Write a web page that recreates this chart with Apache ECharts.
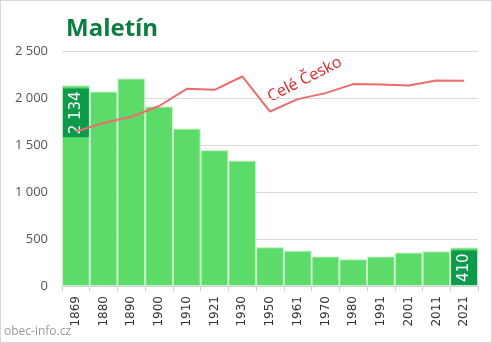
<!DOCTYPE html>
<html>
<head>
<meta charset="utf-8">
<script src="https://cdn.jsdelivr.net/npm/echarts@6/dist/echarts.min.js"></script>
<style>
html,body{margin:0;padding:0;background:#fff;}
#c{width:490px;height:341px;border:1px solid #d8d8d8;}
</style>
</head>
<body>
<div id="c"></div>
<script>
const years = ['1869','1880','1890','1900','1910','1921','1930','1950','1961','1970','1980','1991','2001','2011','2021'];
const population = [2134, 2069, 2208, 1910, 1675, 1445, 1334, 412, 376, 314, 284, 314, 356, 369, 410];
const czechiaScaled = [1643, 1733, 1800, 1915, 2098, 2087, 2229, 1856, 1988, 2052, 2148, 2144, 2133, 2186, 2183];
const yTicks = { min: 0, max: 2500, interval: 500 };
const title = 'Maletín';
const lineLabel = 'Celé Česko';
const source = 'obec-info.cz';

const fmt = v => String(v).replace(/\B(?=(\d{3})+(?!\d))/g, ' ');
const labelCfg = {
  show: true, position: 'insideTop', rotate: 90, align: 'right', verticalAlign: 'middle',
  distance: 3, color: '#fff', backgroundColor: '#0d9a4a', fontFamily: 'DejaVu Sans',
  fontSize: 15, lineHeight: 18, padding: [4, 3], formatter: p => fmt(p.value)
};
const barData = population.map((v, i) => {
  if (i === 0 || i === population.length - 1) return { value: v, label: labelCfg };
  return v;
});

const chart = echarts.init(document.getElementById('c'), null, { renderer: 'canvas' });
chart.setOption({
  animation: false,
  title: {
    text: title, left: 60, top: 11,
    textStyle: { fontFamily: 'Open Sans', fontWeight: 'bold', fontSize: 24, color: '#0b7d3e' }
  },
  grid: { left: 61, right: 13, top: 50, bottom: 56 },
  xAxis: {
    type: 'category', data: years, boundaryGap: true,
    axisLine: { lineStyle: { color: '#cfcfcf' } },
    axisTick: { show: true, length: 5, lineStyle: { color: '#cfcfcf' } },
    axisLabel: { rotate: 90, fontFamily: 'DejaVu Sans', fontSize: 12, color: '#333', margin: 10 }
  },
  yAxis: {
    type: 'value', min: yTicks.min, max: yTicks.max, interval: yTicks.interval,
    axisLine: { show: false }, axisTick: { show: false },
    splitLine: { lineStyle: { color: '#dadada' } },
    axisLabel: { fontFamily: 'Open Sans', fontSize: 13, color: '#555', margin: 14, formatter: fmt }
  },
  series: [
    {
      type: 'bar', data: barData, barCategoryGap: '0%',
      itemStyle: { color: '#5ddb69', borderColor: '#c8f2cc', borderWidth: 1 },
      z: 2
    },
    {
      type: 'line', data: czechiaScaled, showSymbol: false, symbol: 'none',
      lineStyle: { color: '#ee6c6c', width: 2 }, z: 3
    }
  ],
  graphic: [
    {
      type: 'text', left: 264, top: 53, rotation: 27 * Math.PI / 180,
      style: { text: lineLabel, fontFamily: 'Open Sans', fontSize: 16, fill: '#d9262b' }
    },
    {
      type: 'text', left: 3, top: 325,
      style: { text: source, fontFamily: 'Open Sans', fontSize: 12, fill: '#999' }
    }
  ]
});
</script>
</body>
</html>
